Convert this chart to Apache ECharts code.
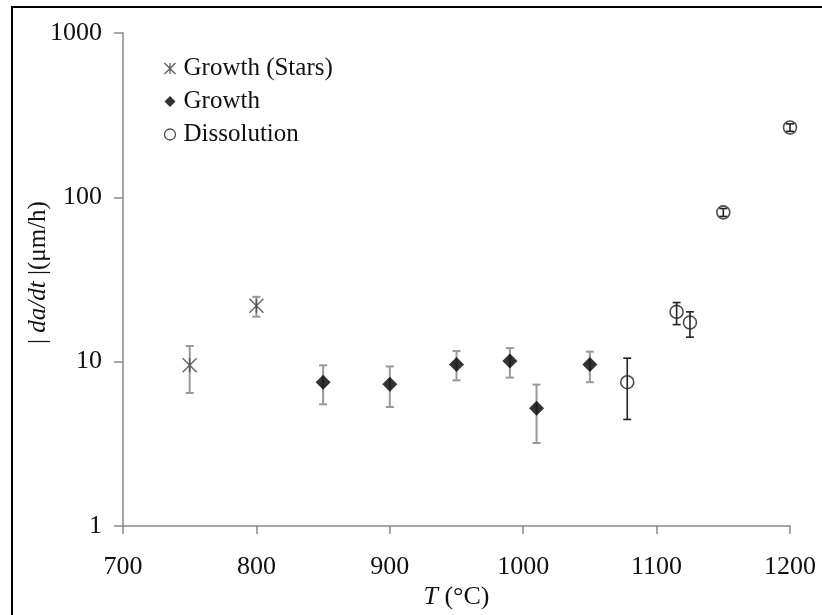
<!DOCTYPE html>
<html>
<head>
<meta charset="utf-8">
<script src="https://cdn.jsdelivr.net/npm/echarts@6/dist/echarts.min.js"></script>
<style>
  html, body { margin: 0; padding: 0; background: #fff; }
  #chart { width: 822px; height: 615px; }
</style>
</head>
<body>
<div id="chart"></div>
<script>
// Temperature (°C) and rate |da/dt| (µm/h) with error-bar limits
const starsT    = [750, 800];
const starsRate = [9.5, 21.9];
const starsLow  = [6.45, 18.8];
const starsHigh = [12.45, 24.8];

const growthT    = [850, 900, 950, 990, 1010, 1050];
const growthRate = [7.5, 7.3, 9.6, 10.1, 5.2, 9.6];
const growthLow  = [5.5, 5.3, 7.7, 8.0, 3.2, 7.5];
const growthHigh = [9.5, 9.35, 11.6, 12.1, 7.25, 11.5];

const dissT    = [1078, 1115, 1125, 1150, 1200];
const dissRate = [7.5, 20.1, 17.3, 81, 266];
const dissLow  = [4.45, 16.8, 14.1, 76.5, 252];
const dissHigh = [10.5, 22.9, 20.1, 85.5, 280];

const xTicks = [700, 800, 900, 1000, 1100, 1200];
const yTicks = [1, 10, 100, 1000];

const FONT = 'Liberation Serif';
const STAR = 'path://M0,0L10,10M10,0L0,10M5,0L5,10';

function points(xs, ys) { return xs.map((x, i) => [x, ys[i]]); }
function bars(xs, lo, hi) { return xs.map((x, i) => [x, lo[i], hi[i]]); }

function errorSeries(data, color, width) {
  return {
    type: 'custom',
    data: data,
    z: 2,
    silent: true,
    encode: { x: 0, y: [1, 2] },
    renderItem: function (params, api) {
      const x = api.value(0);
      const lo = api.coord([x, api.value(1)]);
      const hi = api.coord([x, api.value(2)]);
      const cap = 4;
      const style = { stroke: color, lineWidth: width, fill: null };
      return {
        type: 'group',
        children: [
          { type: 'line', shape: { x1: lo[0], y1: lo[1], x2: hi[0], y2: hi[1] }, style: style },
          { type: 'line', shape: { x1: hi[0] - cap, y1: hi[1], x2: hi[0] + cap, y2: hi[1] }, style: style },
          { type: 'line', shape: { x1: lo[0] - cap, y1: lo[1], x2: lo[0] + cap, y2: lo[1] }, style: style }
        ]
      };
    }
  };
}

const chart = echarts.init(document.getElementById('chart'), null, { renderer: 'canvas' });

chart.setOption({
  animation: false,
  backgroundColor: '#fff',
  textStyle: { fontFamily: FONT },
  graphic: [{
    type: 'rect',
    shape: { x: 12, y: 7, width: 900, height: 900 },
    style: { fill: null, stroke: '#000', lineWidth: 2 },
    z: 100
  }],
  grid: { left: 123, right: 32, top: 33, height: 496 },
  legend: {
    orient: 'vertical',
    left: 157,
    top: 51,
    itemWidth: 11,
    itemHeight: 11,
    itemGap: 8,
    textStyle: { fontFamily: FONT, fontSize: 25, color: '#111', padding: [0, 0, 0, 3] },
    data: [
      { name: 'Growth (Stars)', icon: STAR, itemStyle: { color: 'none', borderColor: '#333', borderWidth: 1.3 } },
      { name: 'Growth', icon: 'diamond', itemStyle: { color: '#000' } },
      { name: 'Dissolution', icon: 'circle', itemStyle: { color: '#fff', borderColor: '#222', borderWidth: 1.3 } }
    ]
  },
  xAxis: {
    type: 'value',
    min: xTicks[0],
    max: xTicks[xTicks.length - 1],
    interval: 100,
    name: '{i|T} (°C)',
    nameLocation: 'middle',
    nameGap: 58,
    nameMoveOverlap: false,
    nameTextStyle: {
      fontFamily: FONT, fontSize: 26, color: '#111',
      rich: { i: { fontFamily: FONT, fontSize: 26, fontStyle: 'italic', color: '#111' } }
    },
    axisLine: { show: true, lineStyle: { color: '#888', width: 1.5 } },
    axisTick: { show: true, length: 8, lineStyle: { color: '#888', width: 1.5 } },
    axisLabel: { fontFamily: FONT, fontSize: 26, color: '#111', margin: 28, formatter: v => String(v) },
    splitLine: { show: false }
  },
  yAxis: {
    type: 'log',
    logBase: 10,
    min: yTicks[0],
    max: yTicks[yTicks.length - 1],
    name: '{n|| }{i|da/dt}{n| |(μm/h)}',
    nameLocation: 'middle',
    nameRotate: 90,
    nameGap: 72,
    nameMoveOverlap: false,
    nameTextStyle: {
      fontFamily: FONT, fontSize: 25, color: '#111',
      padding: [0, 0, 0, 14],
      rich: {
        n: { fontFamily: FONT, fontSize: 25, color: '#111' },
        i: { fontFamily: FONT, fontSize: 25, fontStyle: 'italic', color: '#111' }
      }
    },
    axisLine: { show: true, lineStyle: { color: '#888', width: 1.5 } },
    axisTick: { show: true, length: 9, lineStyle: { color: '#888', width: 1.5 } },
    axisLabel: { fontFamily: FONT, fontSize: 26, color: '#111', margin: 21, formatter: v => String(v) },
    minorTick: { show: false },
    splitLine: { show: false }
  },
  series: [
    errorSeries(bars(starsT, starsLow, starsHigh), '#999', 2),
    errorSeries(bars(growthT, growthLow, growthHigh), '#999', 2),
    errorSeries(bars(dissT, dissLow, dissHigh), '#222', 1.6),
    {
      name: 'Growth (Stars)',
      type: 'scatter',
      z: 3,
      symbol: STAR,
      symbolSize: 14,
      itemStyle: { color: 'none', borderColor: '#444', borderWidth: 1.5 },
      data: points(starsT, starsRate)
    },
    {
      name: 'Growth',
      type: 'scatter',
      z: 3,
      symbol: 'diamond',
      symbolSize: 15,
      itemStyle: { color: '#000' },
      data: points(growthT, growthRate)
    },
    {
      name: 'Dissolution',
      type: 'scatter',
      z: 3,
      symbol: 'circle',
      symbolSize: 13,
      itemStyle: { color: 'rgba(255,255,255,0)', borderColor: '#222', borderWidth: 1.6 },
      data: points(dissT, dissRate)
    }
  ]
});
</script>
</body>
</html>
